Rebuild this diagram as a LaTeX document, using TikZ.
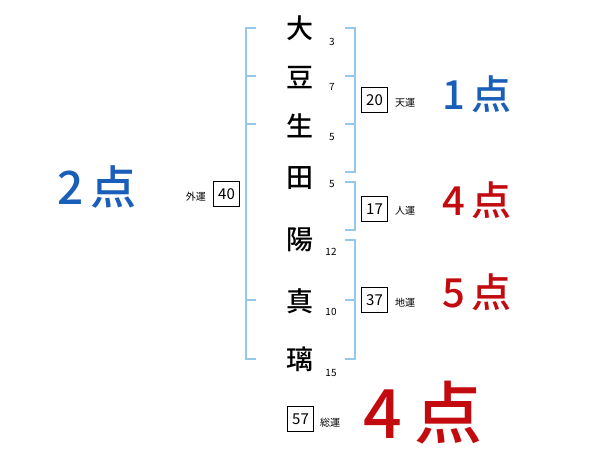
\documentclass[tikz,border=0pt]{standalone}
\usepackage{fontspec}
\setmainfont{Noto Sans CJK JP}
\newfontfamily\medfont{Noto Sans CJK JP Medium}
\definecolor{brk}{RGB}{150,200,235}
\definecolor{sblue}{RGB}{25,95,185}
\definecolor{sred}{RGB}{195,10,15}
\tikzset{
  namechar/.style={font=\fontsize{27}{27}\selectfont\medfont, inner sep=0pt},
  strokenum/.style={font=\fontsize{10}{10}\selectfont, inner sep=0pt},
  numbox/.style={draw, line width=0.8pt, minimum width=26pt, minimum height=25pt, inner sep=0pt, font=\fontsize{15}{15}\selectfont},
  fortune/.style={font=\fontsize{10}{10}\selectfont, inner sep=0pt},
  bracket/.style={draw=brk, line width=2pt},
  score/.style={font=\fontsize{40}{40}\selectfont\medfont, inner sep=0pt},
}
\begin{document}
\begin{tikzpicture}[x=1pt,y=-1pt]
\useasboundingbox[fill=white] (0,0) rectangle (600,470);
% brackets
\draw[bracket] (256,28) -- (246,28) -- (246,359) -- (256,359);
\draw[bracket] (246,76) -- (256,76);
\draw[bracket] (246,124) -- (256,124);
\draw[bracket] (246,300) -- (256,300);
\draw[bracket] (345,28) -- (355,28) -- (355,172) -- (345,172);
\draw[bracket] (345,76) -- (355,76);
\draw[bracket] (345,124) -- (355,124);
\draw[bracket] (345,182) -- (355,182) -- (355,230) -- (345,230);
\draw[bracket] (345,240) -- (355,240) -- (355,359) -- (345,359);
\draw[bracket] (345,300) -- (355,300);
% name characters
\node[namechar] (c1) at (300,28) {大};
\node[namechar] (c2) at (300,78) {豆};
\node[namechar] (c3) at (300,126) {生};
\node[namechar] (c4) at (300,178) {田};
\node[namechar] (c5) at (300,240) {陽};
\node[namechar] (c6) at (300,301) {真};
\node[namechar] (c7) at (300,359) {璃};
% stroke numbers
\node[strokenum] (n1) at (332,42) {3};
\node[strokenum] (n2) at (332,87) {7};
\node[strokenum] (n3) at (332,137) {5};
\node[strokenum] (n4) at (332,184) {5};
\node[strokenum] (n5) at (331,252) {12};
\node[strokenum] (n6) at (331,312) {10};
\node[strokenum] (n7) at (331,373) {15};
% boxes
\node[numbox] (b20) at (374.5,100) {20};
\node[fortune, anchor=west] (l20) at (395,103) {天運};
\node[numbox] (b17) at (374.5,209) {17};
\node[fortune, anchor=west] (l17) at (395,211) {人運};
\node[numbox] (b37) at (374.5,300) {37};
\node[fortune, anchor=west] (l37) at (395,303) {地運};
\node[numbox] (b57) at (300.5,419) {57};
\node[fortune, anchor=west] (l57) at (320,423) {総運};
\node[numbox] (b40) at (226.5,194) {40};
\node[fortune, anchor=east] (l40) at (206,197) {外運};
% scores
\node[score, text=sblue] (s1) at (477,94) {1\,点};
\node[score, text=sred] (s4) at (477,200) {4\,点};
\node[score, text=sred] (s5) at (477,292) {5\,点};
\node[score, text=sred, font=\fontsize{68}{68}\selectfont\medfont] (s4b) at (423,413) {4\,点};
\node[score, text=sblue, font=\fontsize{46}{46}\selectfont\medfont] (s2) at (97,187) {2\,点};
\end{tikzpicture}
\end{document}
